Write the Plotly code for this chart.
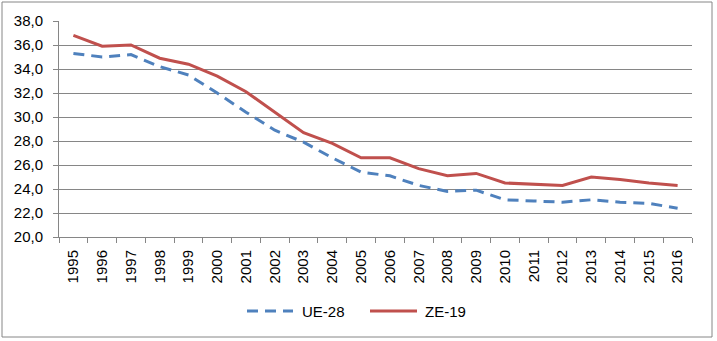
import plotly.graph_objects as go

years = [str(y) for y in range(1995, 2017)]
ue28 = [35.3, 35.0, 35.2, 34.2, 33.5, 32.0, 30.4, 28.9, 27.9, 26.6, 25.4, 25.1,
        24.3, 23.8, 23.9, 23.1, 23.0, 22.9, 23.1, 22.9, 22.8, 22.4]
ze19 = [36.8, 35.9, 36.0, 34.9, 34.4, 33.4, 32.1, 30.4, 28.7, 27.8, 26.6, 26.6,
        25.7, 25.1, 25.3, 24.5, 24.4, 24.3, 25.0, 24.8, 24.5, 24.3]
names = ["UE-28", "ZE-19"]
colors = ["#4F81BD", "#C0504D"]
dashes = ["11px,7px", "solid"]

W, H = 717, 341
L, R, T, B = 59, 25, 21, 104
pw, ph = W - L - R, H - T - B

def px_x(p):
    return (p - L) / pw

def px_y(p):
    return (H - B - p) / ph

fig = go.Figure()
for vals, nm, c, d in zip([ue28, ze19], names, colors, dashes):
    fig.add_trace(go.Scatter(x=years, y=vals, name=nm, mode="lines",
                             line=dict(color=c, width=3, dash=d)))

font = dict(family="Liberation Sans", size=15, color="#000000")

# manual legend (sample line + text)
shapes = [dict(type="rect", xref="paper", yref="paper",
               x0=px_x(2), x1=px_x(712), y0=px_y(337), y1=px_y(2),
               line=dict(color="#868686", width=1), layer="below")]
annotations = []
leg_y = 311
for (x0, x1, tx), nm, c, d in zip([(247, 293, 300), (370, 417, 423)], names, colors, dashes):
    shapes.append(dict(type="line", xref="paper", yref="paper",
                       x0=px_x(x0), x1=px_x(x1), y0=px_y(leg_y), y1=px_y(leg_y),
                       line=dict(color=c, width=3, dash=d)))
    annotations.append(dict(text=nm, xref="paper", yref="paper", x=px_x(tx), y=px_y(leg_y),
                            xanchor="left", yanchor="middle", showarrow=False, font=font))

fig.update_layout(
    width=W, height=H,
    margin=dict(l=L, r=R, t=T, b=B),
    paper_bgcolor="white", plot_bgcolor="white",
    separators=", ",
    font=font,
    showlegend=False,
    xaxis=dict(type="category", tickangle=-90, showgrid=False, showline=True,
               linecolor="#868686", linewidth=1, ticks="outside", tickson="boundaries",
               ticklen=5, tickcolor="#868686", tickfont=font, zeroline=False,
               ticklabelstandoff=6, range=[-0.5, len(years) - 0.5]),
    yaxis=dict(range=[20, 38], dtick=2, tickformat=".1f", showgrid=True,
               gridcolor="#868686", gridwidth=1, showline=True, linecolor="#868686",
               linewidth=1, ticks="outside", ticklen=5, tickcolor="#868686",
               tickfont=font, zeroline=False, ticklabelstandoff=7),
    shapes=shapes,
    annotations=annotations,
)

fig.write_html("out.html")
